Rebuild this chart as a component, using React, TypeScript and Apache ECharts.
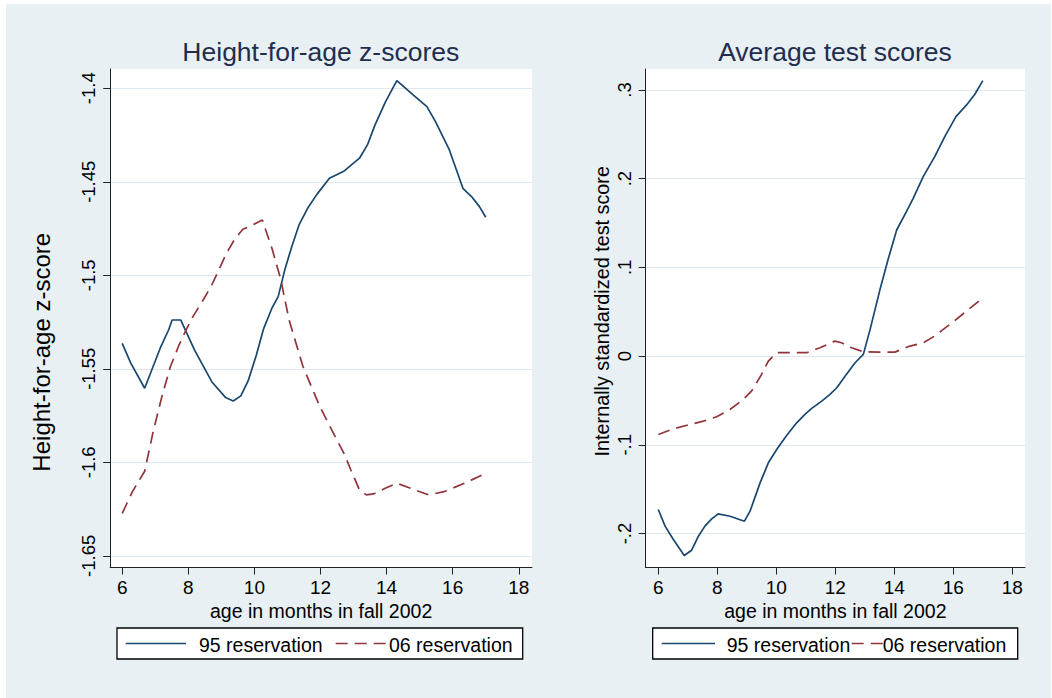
import React, { useEffect, useRef } from 'react';
import * as echarts from 'echarts';

// ---- Data ----
const hfaAge95 = [6, 6.26, 6.68, 7.15, 7.41, 7.51, 7.77, 8.19, 8.71, 9.13, 9.36, 9.59, 9.81, 10.06, 10.28, 10.53, 10.72, 10.92, 11.13, 11.35, 11.61, 11.88, 12.27, 12.72, 13.18, 13.42, 13.65, 13.97, 14.31, 14.75, 15.22, 15.48, 15.9, 16.31, 16.57, 16.81, 17.0];
const hfaVal95 = [-1.5364, -1.547, -1.5604, -1.539, -1.529, -1.5239, -1.5239, -1.54, -1.5569, -1.5654, -1.5672, -1.5645, -1.5565, -1.5426, -1.5285, -1.5176, -1.5114, -1.4971, -1.4847, -1.4731, -1.4642, -1.457, -1.4481, -1.4442, -1.4374, -1.4303, -1.4196, -1.4071, -1.3959, -1.4027, -1.4098, -1.4178, -1.433, -1.4535, -1.4579, -1.4633, -1.469];

const hfaAge06 = [6, 6.31, 6.68, 6.94, 7.2, 7.46, 7.72, 7.93, 8.14, 8.45, 8.71, 8.97, 9.13, 9.39, 9.65, 9.96, 10.24, 10.53, 10.79, 11.05, 11.47, 11.98, 12.34, 12.71, 12.92, 13.18, 13.39, 13.6, 13.96, 14.31, 14.8, 15.27, 15.74, 16.36, 17.0];
const hfaVal06 = [-1.6273, -1.6157, -1.6048, -1.5834, -1.5649, -1.5488, -1.5373, -1.5293, -1.5221, -1.5132, -1.5052, -1.4954, -1.4891, -1.4811, -1.4754, -1.473, -1.4704, -1.4856, -1.5016, -1.5239, -1.5488, -1.5702, -1.5827, -1.5952, -1.6041, -1.6148, -1.6174, -1.6169, -1.6139, -1.6112, -1.6144, -1.6174, -1.6157, -1.6112, -1.6059];

const tsAge95 = [6, 6.23, 6.51, 6.88, 7.13, 7.36, 7.58, 7.81, 8.03, 8.43, 8.92, 9.11, 9.45, 9.73, 10.03, 10.35, 10.69, 10.97, 11.2, 11.54, 11.82, 12.05, 12.33, 12.67, 12.95, 13.18, 13.51, 13.8, 14.08, 14.41, 14.64, 14.98, 15.37, 15.71, 16.09, 16.45, 16.73, 17.0];
const tsVal95 = [-0.1729, -0.1917, -0.2068, -0.2248, -0.2188, -0.203, -0.1917, -0.1835, -0.1778, -0.1805, -0.1861, -0.1748, -0.1429, -0.1203, -0.1045, -0.0895, -0.0752, -0.0658, -0.059, -0.0508, -0.0432, -0.0357, -0.0226, -0.0075, 0.0019, 0.0301, 0.0744, 0.1102, 0.1421, 0.1628, 0.1778, 0.2023, 0.2248, 0.2474, 0.2699, 0.2831, 0.2951, 0.3105];

const tsAge06 = [6, 6.51, 7.07, 7.53, 7.98, 8.43, 8.88, 9.16, 9.5, 9.73, 10.01, 10.46, 11.03, 11.48, 11.99, 12.21, 12.55, 12.95, 13.51, 14.02, 14.53, 14.98, 15.37, 15.66, 16.0, 16.56, 17.0];
const tsVal06 = [-0.0883, -0.082, -0.0771, -0.0733, -0.0684, -0.0602, -0.0489, -0.0395, -0.0207, -0.0056, 0.0038, 0.0038, 0.0038, 0.0094, 0.0169, 0.015, 0.0094, 0.0049, 0.0045, 0.0045, 0.0113, 0.015, 0.0226, 0.0301, 0.0387, 0.0538, 0.0655];

const xTicks = [6, 8, 10, 12, 14, 16, 18];
const hfaTicks = [-1.65, -1.6, -1.55, -1.5, -1.45, -1.4];
const hfaTickLabels = ['-1.65', '-1.6', '-1.55', '-1.5', '-1.45', '-1.4'];
const tsTicks = [-0.2, -0.1, 0, 0.1, 0.2, 0.3];
const tsTickLabels = ['-.2', '-.1', '0', '.1', '.2', '.3'];

const seriesNames = ['95 reservation', '06 reservation'];
const titles = ['Height-for-age z-scores', 'Average test scores'];
const xAxisName = 'age in months in fall 2002';
const yAxisNames = ['Height-for-age z-score', 'Internally standardized test score'];

// ---- Styles ----
const FONT = "'Liberation Sans', Arial, Helvetica, sans-serif";
const BLUE = '#1a476f';
const RED = '#90353b';
const BG = '#e8f0f3';
const GRID = '#dfe8ee';
const TITLE = '#1f2d4e';

const pairs = (xs: number[], ys: number[]) => xs.map((x, i) => [x, ys[i]]);
const labelFor = (ticks: number[], labels: string[]) => (v: number) => {
  let best = 0;
  ticks.forEach((t, i) => { if (Math.abs(t - v) < Math.abs(ticks[best] - v)) best = i; });
  return labels[best];
};

export default function App() {
  const ref = useRef<HTMLDivElement>(null);
  useEffect(() => {
    if (!ref.current) return;
    const chart = echarts.init(ref.current, null, { renderer: 'svg', width: 1052, height: 698 });

    const xAxisBase = (min: number, max: number, gridIndex: number) => ({
      type: 'value',
      gridIndex,
      min,
      max,
      name: xAxisName,
      nameLocation: 'middle',
      nameGap: 30,
      nameTextStyle: { fontFamily: FONT, fontSize: 19.5, color: '#000' },
      axisLine: { show: true, onZero: false, lineStyle: { color: '#222', width: 1 } },
      axisTick: { show: true, inside: false, length: 7, lineStyle: { color: '#222', width: 1 }, customValues: xTicks },
      axisLabel: { show: true, margin: 10, fontFamily: FONT, fontSize: 19, color: '#000', customValues: xTicks, formatter: (v: number) => String(Math.round(v)) },
      splitLine: { show: false },
    });

    const yAxisBase = (min: number, max: number, gridIndex: number, ticks: number[], labels: string[], name: string, nameSize: number, nameGap: number, namePad: number[]) => ({
      type: 'value',
      gridIndex,
      min,
      max,
      name,
      nameLocation: 'middle',
      nameGap,
      nameTextStyle: { fontFamily: FONT, fontSize: nameSize, color: '#000', padding: namePad },
      axisLine: { show: true, onZero: false, lineStyle: { color: '#222', width: 1 } },
      axisTick: { show: true, inside: false, length: 7, lineStyle: { color: '#222', width: 1 }, customValues: ticks },
      axisLabel: { show: true, rotate: 90, margin: 12, fontFamily: FONT, fontSize: 18.5, color: '#000', customValues: ticks, formatter: labelFor(ticks, labels) },
      splitLine: { show: true, lineStyle: { color: GRID, width: 1.2 }, customValues: ticks },
    });

    const lineSeries = (name: string, data: number[][], color: string, dashed: boolean, idx: number) => ({
      type: 'line',
      name,
      xAxisIndex: idx,
      yAxisIndex: idx,
      data,
      showSymbol: false,
      symbol: 'none',
      smooth: false,
      lineStyle: { color, width: 1.7, type: dashed ? [12, 7] : 'solid' },
      itemStyle: { color },
      z: 3,
    });

    const legendGroup = (bx: number, bw: number, solid: [number, number], t1: number, dash: [number, number], t2: number) => [
      { type: 'rect', z: 20, shape: { x: bx, y: 628, width: bw, height: 31 }, style: { fill: '#fff', stroke: '#000', lineWidth: 1.3 } },
      { type: 'line', z: 21, shape: { x1: solid[0], y1: 643.5, x2: solid[1], y2: 643.5 }, style: { stroke: BLUE, lineWidth: 1.7 } },
      { type: 'text', z: 21, x: t1, y: 644.5, style: { text: seriesNames[0], fontFamily: FONT, fontSize: 19.5, fill: '#000', verticalAlign: 'middle', align: 'left' } },
      { type: 'line', z: 21, shape: { x1: dash[0], y1: 643.5, x2: dash[1], y2: 643.5 }, style: { stroke: RED, lineWidth: 1.7, lineDash: [12, 7] } },
      { type: 'text', z: 22, x: t2, y: 644.5, style: { text: seriesNames[1], fontFamily: FONT, fontSize: 19.5, fill: '#000', verticalAlign: 'middle', align: 'left' } },
    ];

    const option: any = {
      animation: false,
      backgroundColor: 'transparent',
      textStyle: { fontFamily: FONT },
      title: [
        { text: titles[0], left: 320.8, top: 52, textAlign: 'center', textVerticalAlign: 'middle', padding: 0, textStyle: { fontFamily: FONT, fontSize: 26.5, fontWeight: 'normal', color: TITLE } },
        { text: titles[1], left: 835, top: 52, textAlign: 'center', textVerticalAlign: 'middle', padding: 0, textStyle: { fontFamily: FONT, fontSize: 26.5, fontWeight: 'normal', color: TITLE } },
      ],
      grid: [
        { left: 110.2, right: 520, top: 69, bottom: 130.5, show: true, backgroundColor: '#fff', borderWidth: 0, containLabel: false, outerBoundsMode: 'none' },
        { left: 645.7, right: 27, top: 69, bottom: 130.5, show: true, backgroundColor: '#fff', borderWidth: 0, containLabel: false, outerBoundsMode: 'none' },
      ],
      xAxis: [xAxisBase(5.637, 18.4, 0), xAxisBase(5.573, 18.43, 1)],
      yAxis: [
        yAxisBase(-1.65625, -1.3897, 0, hfaTicks, hfaTickLabels, yAxisNames[0], 24, 57, [0, 68, 0, 0]),
        yAxisBase(-0.2383, 0.3236, 1, tsTicks, tsTickLabels, yAxisNames[1], 19.8, 34, [0, 0, 0, 14]),
      ],
      series: [
        lineSeries(seriesNames[0], pairs(hfaAge95, hfaVal95), BLUE, false, 0),
        lineSeries(seriesNames[1], pairs(hfaAge06, hfaVal06), RED, true, 0),
        lineSeries(seriesNames[0], pairs(tsAge95, tsVal95), BLUE, false, 1),
        lineSeries(seriesNames[1], pairs(tsAge06, tsVal06), RED, true, 1),
      ],
      graphic: [
        { type: 'rect', z: -1, silent: true, shape: { x: 6, y: 4, width: 1045, height: 694 }, style: { fill: BG } },
        ...legendGroup(117, 405.7, [125.7, 186], 199, [335.7, 391], 389),
        ...legendGroup(652.7, 365, [661.7, 715], 726.7, [851.7, 883], 882.7),
      ],
    };

    chart.setOption(option);
    return () => chart.dispose();
  }, []);

  return (
    <div style={{ position: 'fixed', left: 0, top: 0, width: 1052, height: 698, background: '#fff' }}>
      <div ref={ref} style={{ width: 1052, height: 698 }} />
    </div>
  );
}
